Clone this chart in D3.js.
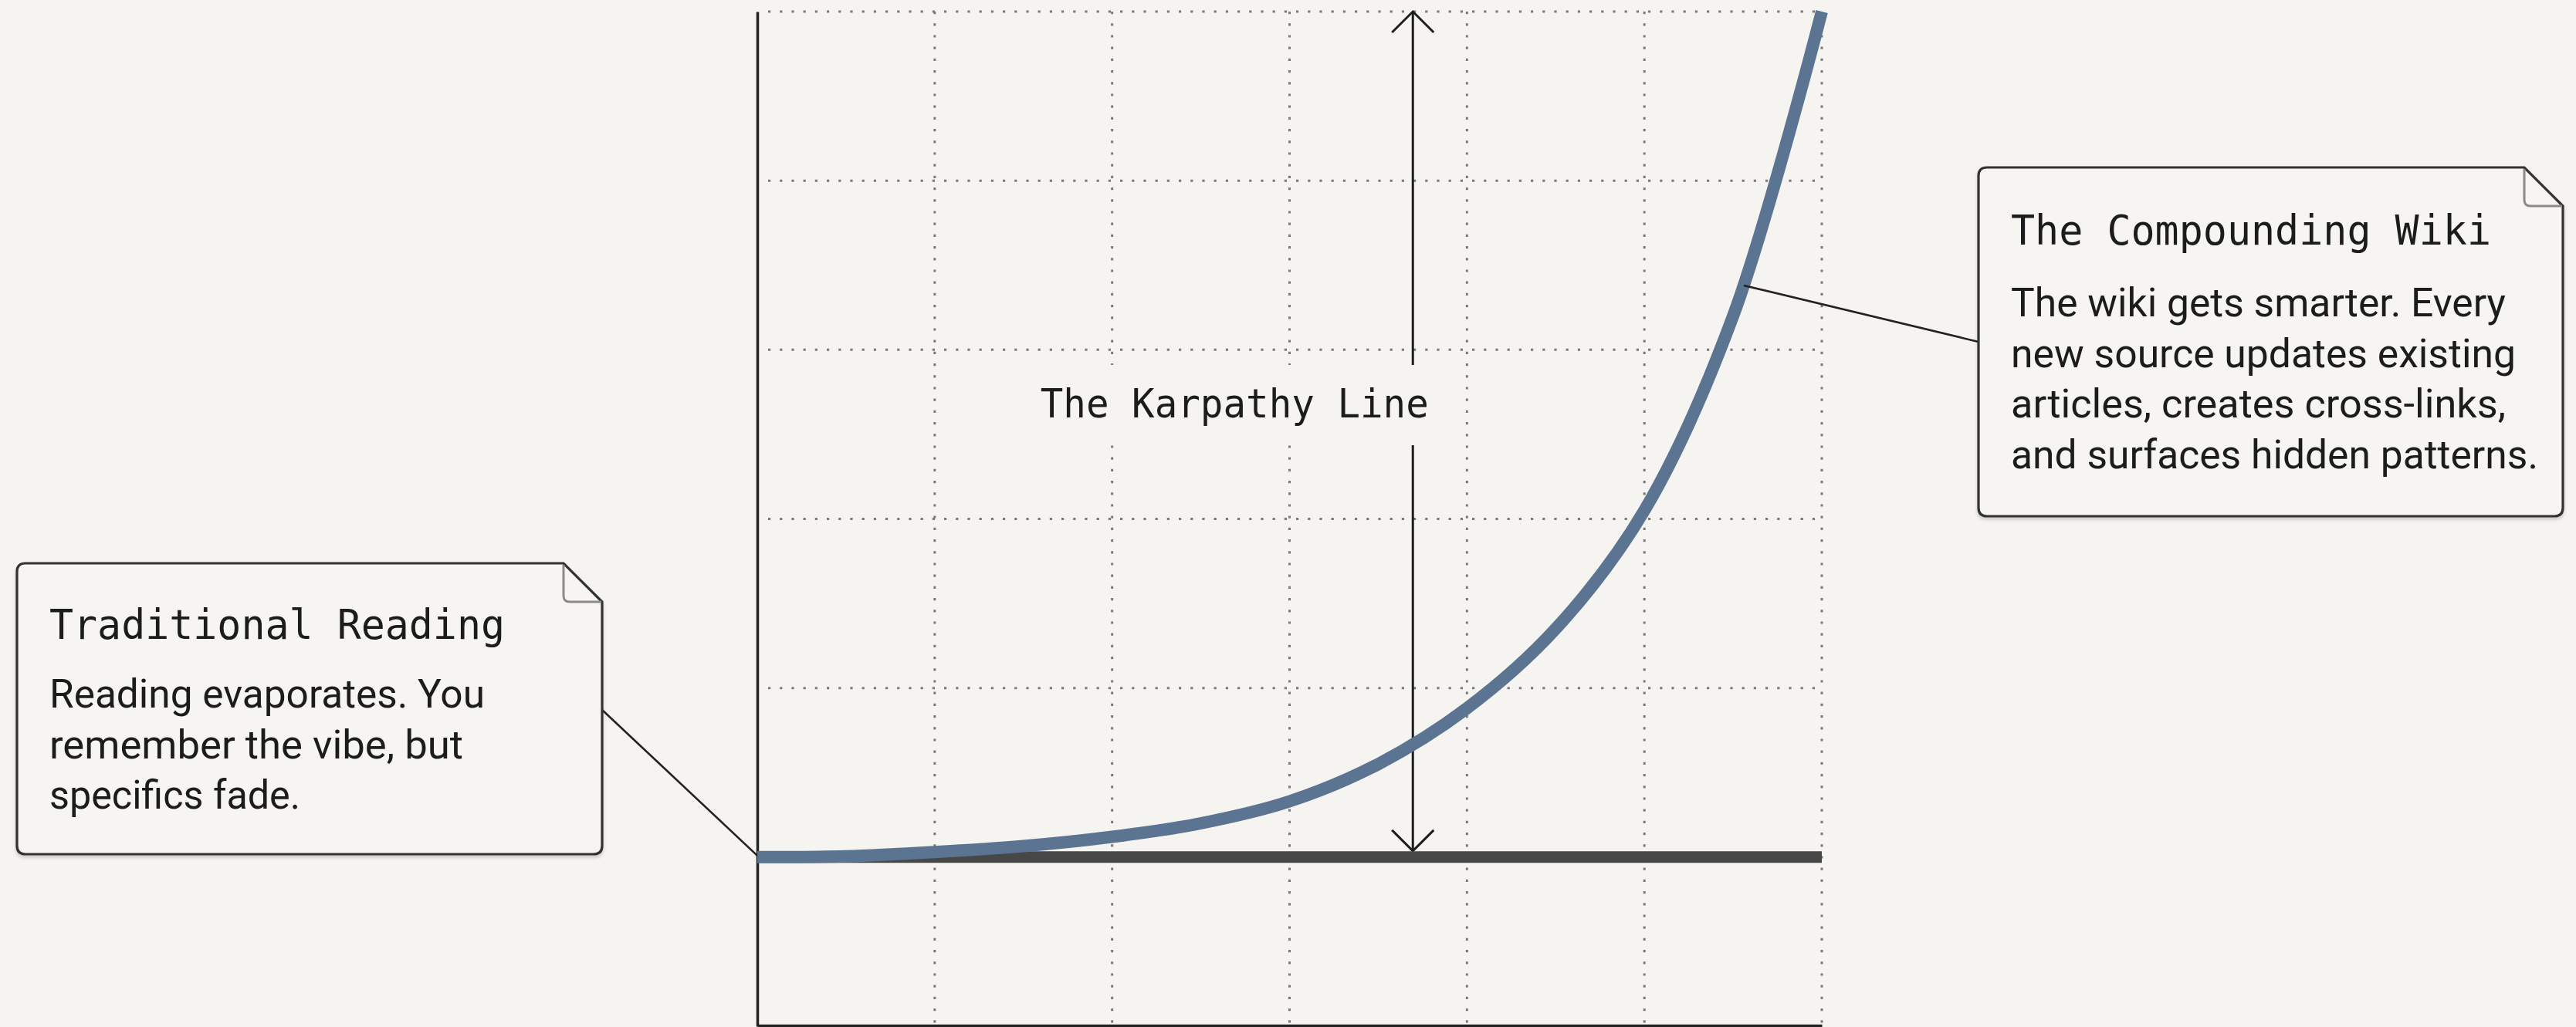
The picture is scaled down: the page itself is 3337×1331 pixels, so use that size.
<!DOCTYPE html>
<html>
<head>
<meta charset="utf-8">
<script src="https://cdn.jsdelivr.net/npm/d3@7"></script>
<style>
  html, body { margin: 0; padding: 0; background: #f5f4f0; }
  svg { display: block; }
</style>
</head>
<body>
<div id="chart"></div>
<script>
// ---------------- data ----------------
const xTicks = [0, 1, 2, 3, 4, 5, 6];
const yTicks = [0, 1, 2, 3, 4, 5, 6];

// The Compounding Wiki curve (x in grid columns, y in grid rows)
const wikiX = [0, 0.5, 1, 1.5, 2, 2.5, 3, 3.5, 4, 4.5, 5, 5.5, 6];
const wikiY = [1.0, 1.005, 1.03, 1.065, 1.12, 1.20, 1.33, 1.55, 1.88, 2.35, 3.05, 4.2, 6.0];

// Traditional Reading flat line
const flatX = [0, 6];
const flatY = [1, 1];

// The Karpathy Line arrow position
const karpathyX = 3.695;
const karpathyLabel = "The Karpathy Line";

const calloutTitles = ["Traditional Reading", "The Compounding Wiki"];
const calloutBodies = [
  ["Reading evaporates. You", "remember the vibe, but", "specifics fade."],
  ["The wiki gets smarter. Every", "new source updates existing", "articles, creates cross-links,", "and surfaces hidden patterns."]
];
const calloutAnchorX = [0, 5.56];

// ---------------- layout ----------------
(function () {
const W = 3337, H = 1331;
const BG = "#f5f4f0";
const svg = d3.select("#chart").append("svg").attr("width", W).attr("height", H);
svg.append("rect").attr("width", W).attr("height", H).attr("fill", BG);

const defs = svg.append("defs");
const f = defs.append("filter").attr("id", "shadow").attr("x", "-5%").attr("y", "-5%").attr("width", "110%").attr("height", "115%");
f.append("feDropShadow").attr("dx", 0).attr("dy", 3).attr("stdDeviation", 2).attr("flood-color", "#000").attr("flood-opacity", 0.18);

const x = d3.scaleLinear().domain([0, 6]).range([981, 2360]);
const y = d3.scaleLinear().domain([0, 6]).range([1330, 15]);

const g = svg.append("g");

// grid
const gridColor = "#7a7a7a";
g.append("g").selectAll("line").data(xTicks.filter(d => d > 0)).join("line")
  .attr("x1", d => x(d)).attr("x2", d => x(d))
  .attr("y1", y(6)).attr("y2", y(0))
  .attr("stroke", gridColor).attr("stroke-width", 3).attr("stroke-dasharray", "3.2 12");
g.append("g").selectAll("line").data(yTicks.filter(d => d > 0)).join("line")
  .attr("x1", x(0) + 14).attr("x2", x(6))
  .attr("y1", d => y(d)).attr("y2", d => y(d))
  .attr("stroke", gridColor).attr("stroke-width", 3).attr("stroke-dasharray", "3.2 12");

// axes (no ticks, no labels)
const yAxis = d3.axisLeft(y).tickValues([]).tickSizeOuter(0);
const xAxis = d3.axisBottom(x).tickValues([]).tickSizeOuter(0);
const ya = g.append("g").attr("transform", `translate(${x(0)},0)`).call(yAxis);
ya.select(".domain").attr("stroke", "#222").attr("stroke-width", 3.5);
const xa = g.append("g").attr("transform", `translate(0,${y(0) - 1})`).call(xAxis);
xa.select(".domain").attr("stroke", "#222").attr("stroke-width", 3.5);

// Karpathy arrow
const ax = x(karpathyX);
const arrowG = g.append("g").attr("stroke", "#1e1e1e").attr("stroke-width", 3).attr("fill", "none");
arrowG.append("line").attr("x1", ax).attr("x2", ax).attr("y1", y(6)).attr("y2", y(1) - 8);
const aTop = y(6), aBot = y(1) - 8, hs = 27;
arrowG.append("path").attr("d", `M${ax - hs},${aTop + hs} L${ax},${aTop} L${ax + hs},${aTop + hs}`);
arrowG.append("path").attr("d", `M${ax - hs},${aBot - hs} L${ax},${aBot} L${ax + hs},${aBot - hs}`);

// label background + label
const lblCx = x(2.69), lblY = 541;
g.append("rect").attr("x", lblCx - 270).attr("y", 473).attr("width", 540).attr("height", 104).attr("fill", BG);
g.append("text").attr("x", lblCx).attr("y", lblY).attr("text-anchor", "middle")
  .attr("font-family", "'DejaVu Sans Mono', 'Liberation Mono', monospace")
  .attr("font-size", 52).attr("fill", "#1c1c1c")
  .attr("textLength", 503).attr("lengthAdjust", "spacingAndGlyphs")
  .text(karpathyLabel);

// flat line
const line = d3.line().x(d => x(d[0])).y(d => y(d[1]));
g.append("path").datum(flatX.map((d, i) => [d, flatY[i]]))
  .attr("d", line).attr("fill", "none").attr("stroke", "#474747").attr("stroke-width", 15);

// wiki curve
const curveLine = d3.line().x(d => x(d[0])).y(d => y(d[1])).curve(d3.curveCatmullRom.alpha(0.5));
const wikiPath = g.append("path").datum(wikiX.map((d, i) => [d, wikiY[i]]))
  .attr("d", curveLine).attr("fill", "none").attr("stroke", "#5a7492").attr("stroke-width", 16)
  .attr("stroke-linecap", "butt");

function pointAtX(px) {
  const node = wikiPath.node();
  const L = node.getTotalLength();
  let lo = 0, hi = L;
  for (let i = 0; i < 40; i++) {
    const mid = (lo + hi) / 2;
    if (node.getPointAtLength(mid).x < px) lo = mid; else hi = mid;
  }
  return node.getPointAtLength(lo);
}

// callouts
const boxes = [
  { x0: 22, y0: 730, x1: 780, y1: 1107, titleY: 828, bodyY: 917, titleW: 590, bodyW: [564, 536, 325], leaderY: 920, side: "right" },
  { x0: 2563, y0: 217, x1: 3320, y1: 669, titleY: 317, bodyY: 410, titleW: 622, bodyW: [641, 654, 641, 683], leaderY: 443, side: "left" }
];
const lineH = 65.5, fold = 50, r = 11;

boxes.forEach((b, i) => {
  const p = pointAtX(x(calloutAnchorX[i]));
  const lx = b.side === "right" ? b.x1 : b.x0;
  g.append("line").attr("x1", lx).attr("y1", b.leaderY).attr("x2", i === 0 ? x(0) : p.x).attr("y2", i === 0 ? y(1) - 2 : p.y)
    .attr("stroke", "#222").attr("stroke-width", 2.6);

  const bg = g.append("g");
  const d = `M${b.x0 + r},${b.y0} H${b.x1 - fold} L${b.x1},${b.y0 + fold} V${b.y1 - r} Q${b.x1},${b.y1} ${b.x1 - r},${b.y1} H${b.x0 + r} Q${b.x0},${b.y1} ${b.x0},${b.y1 - r} V${b.y0 + r} Q${b.x0},${b.y0} ${b.x0 + r},${b.y0} Z`;
  bg.append("path").attr("d", d).attr("fill", "#f6f5f2").attr("stroke", "#333").attr("stroke-width", 3.2)
    .attr("filter", "url(#shadow)");
  bg.append("path").attr("d", `M${b.x1 - fold},${b.y0 + 2} V${b.y0 + fold - 8} Q${b.x1 - fold},${b.y0 + fold} ${b.x1 - fold + 8},${b.y0 + fold} H${b.x1 - 1}`)
    .attr("fill", "none").attr("stroke", "#8a8a8a").attr("stroke-width", 3);

  const tx = b.x0 + 42;
  bg.append("text").attr("x", tx).attr("y", b.titleY)
    .attr("font-family", "'DejaVu Sans Mono', 'Liberation Mono', monospace")
    .attr("font-size", 53).attr("fill", "#1c1c1c")
    .attr("textLength", b.titleW).attr("lengthAdjust", "spacingAndGlyphs")
    .text(calloutTitles[i]);
  calloutBodies[i].forEach((t, j) => {
    bg.append("text").attr("x", tx).attr("y", b.bodyY + j * lineH)
      .attr("font-family", "Roboto, 'Liberation Sans', sans-serif")
      .attr("font-size", 52).attr("fill", "#1c1c1c")
      .attr("textLength", b.bodyW[j]).attr("lengthAdjust", "spacingAndGlyphs")
      .text(t);
  });
});
})();
</script>
</body>
</html>
